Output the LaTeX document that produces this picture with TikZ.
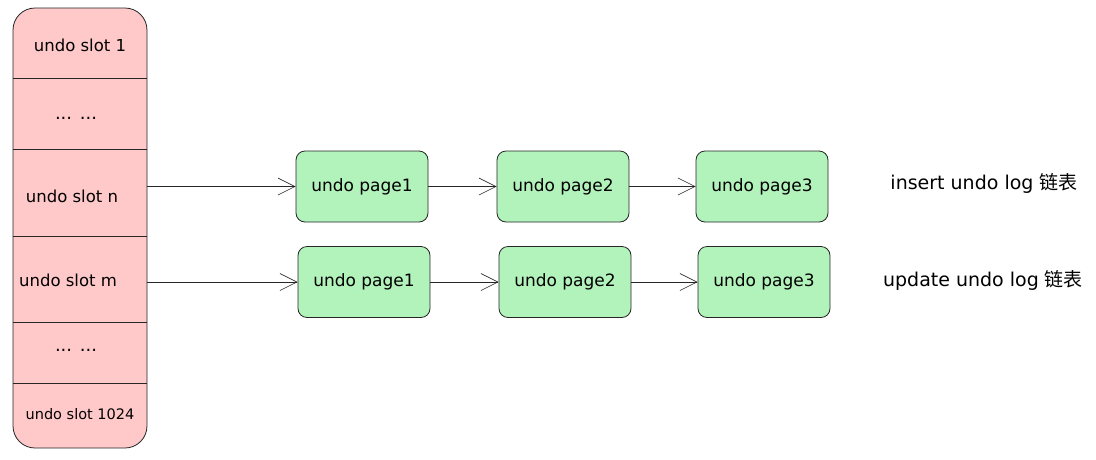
\documentclass[tikz,border=0pt]{standalone}
\usepackage{fontspec}
\setmainfont{DejaVu Sans}
\newfontfamily\cjk{Noto Sans CJK SC}
\usetikzlibrary{arrows.meta,positioning}
\definecolor{slotred}{HTML}{FFC9C9}
\definecolor{pagegreen}{HTML}{B2F2BB}
\tikzset{
  slotcell/.style={minimum width=134pt, inner sep=0pt, font=\fontsize{16.5}{18}\selectfont},
  pagebox/.style={draw=black!85, fill=pagegreen, rounded corners=9pt, line width=0.8pt,
    minimum width=132pt, minimum height=71pt, inner sep=0pt, font=\fontsize{17}{19}\selectfont},
  loglabel/.style={font=\fontsize{19}{21}\selectfont},
  link/.style={-{Straight Barb[length=17pt,width=17pt]}, line width=0.6pt, draw=black!85},
}

\begin{document}
\begin{tikzpicture}[x=1pt,y=-1pt]
\useasboundingbox (0,0) rectangle (1096,459);
% slot column
\draw[fill=slotred, draw=black!85, rounded corners=22pt, line width=0.8pt] (13,8) rectangle (147,448);
\foreach \yy in {78,149,236,322,383}
  \draw[line width=0.8pt, draw=black!85] (13,\yy) -- (147,\yy);
\node[slotcell] (s1) at (80,45) {undo slot 1};
\node[slotcell, font=\fontsize{18}{20}\selectfont] (d1) at (76,118) {... ...};
\node[slotcell] (sn) at (72,196) {undo slot n};
\node[slotcell] (sm) at (68,280) {undo slot m};
\node[slotcell, font=\fontsize{18}{20}\selectfont] (d2) at (76,350) {... ...};
\node[slotcell, font=\fontsize{14.5}{16}\selectfont] (s1024) at (80,414) {undo slot 1024};
% insert undo pages
\node[pagebox] (p11) at (362,186.5) {undo page1};
\node[pagebox] (p12) at (563,186.5) {undo page2};
\node[pagebox] (p13) at (762,186.5) {undo page3};
% update undo pages
\node[pagebox] (p21) at (364,282) {undo page1};
\node[pagebox] (p22) at (565,282) {undo page2};
\node[pagebox] (p23) at (764,282) {undo page3};
\draw[link] (p11.west -| s1.east) -- (p11.west);
\draw[link] (p11) -- (p12);
\draw[link] (p12) -- (p13);
\draw[link] (p21.west -| s1.east) -- (p21.west);
\draw[link] (p21) -- (p22);
\draw[link] (p22) -- (p23);
\node[loglabel] (ins) at (984,183) {insert undo log {\cjk 链表}};
\node[loglabel] (upd) at (983,280) {update undo log {\cjk 链表}};
\end{tikzpicture}
\end{document}
